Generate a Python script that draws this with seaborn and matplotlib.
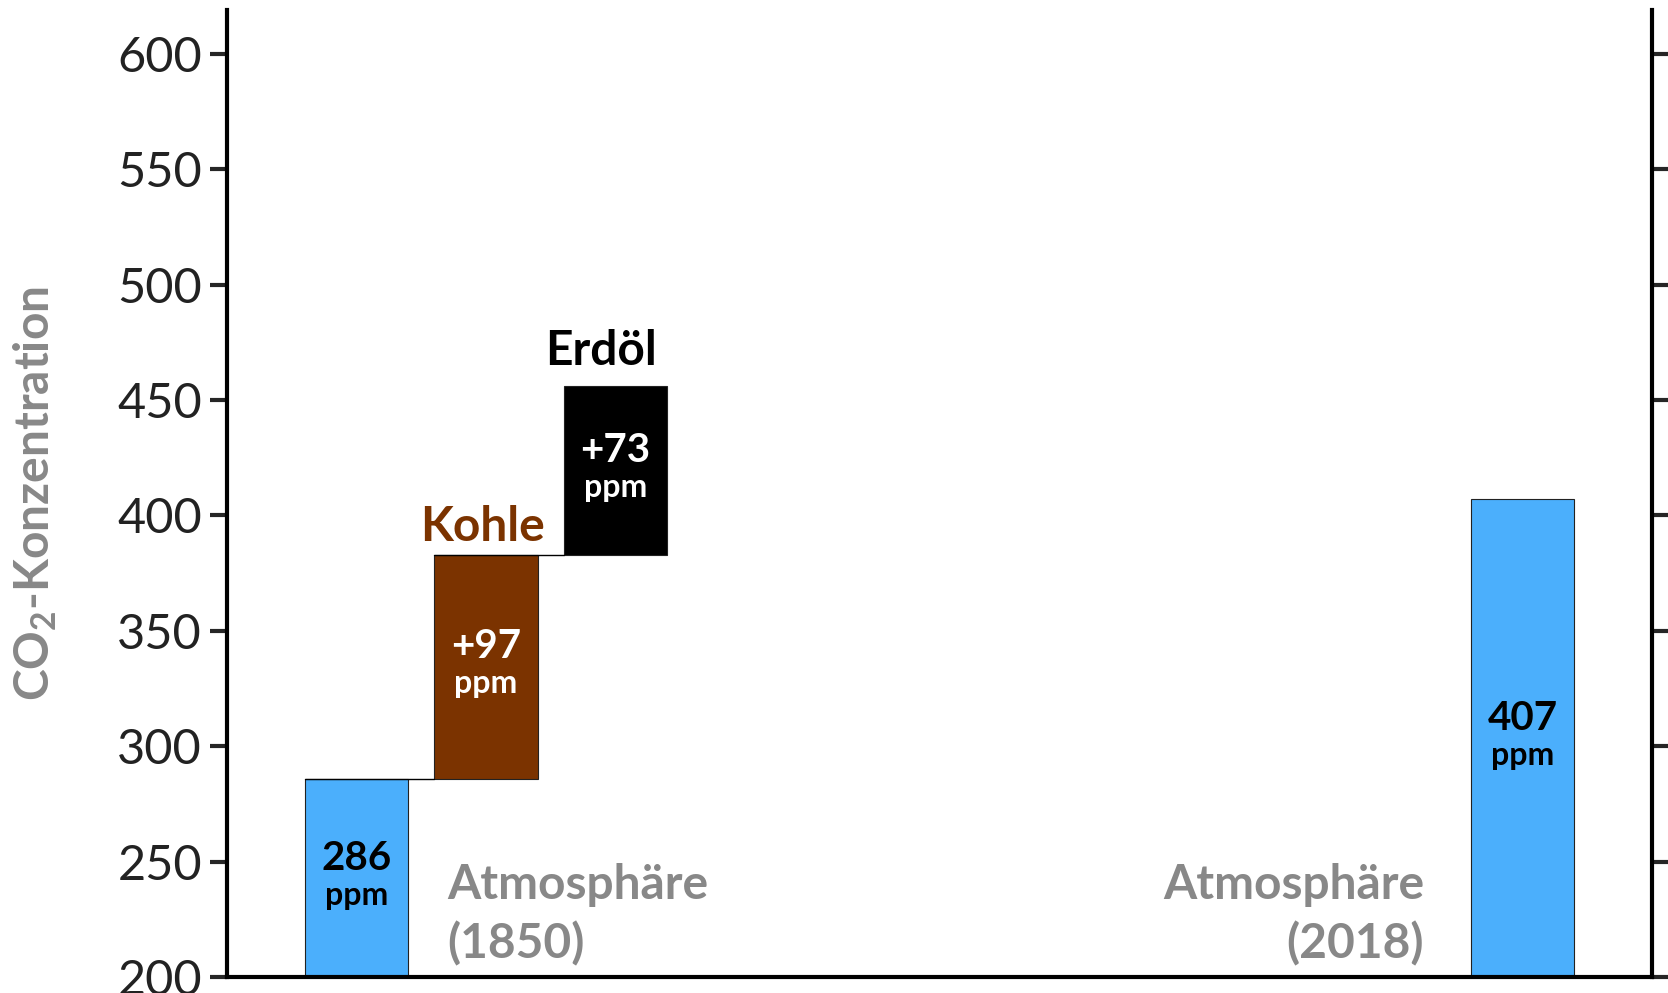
import numpy as np
import pandas as pd
import seaborn as sns
import matplotlib.pyplot as plt

# waterfall: CO2 concentration, 1850 -> 2018 (middle slots still empty)
slots = list(range(10))
bar_slots = [0, 1, 2, 9]
bar_bottoms = [0, 286, 383, 0]
bar_heights = [286, 97, 73, 407]
bar_values = ['286', '+97', '+73', '407']
bar_colors = ['#4BAFFC', '#7B3300', '#000000', '#4BAFFC']
value_colors = ['black', 'white', 'white', 'black']
y_ticks = [200, 250, 300, 350, 400, 450, 500, 550, 600]

sns.set_theme(style='ticks')
plt.rcParams['font.family'] = ['Lato', 'DejaVu Sans']
plt.rcParams['mathtext.default'] = 'regular'

fig = plt.figure(figsize=(16.68, 9.93), dpi=100)
ax = fig.add_axes([0.1361, 0.0161, 0.8543, 0.9738])

ymin, ymax = 200, 619

for s, b, h, c in zip(bar_slots, bar_bottoms, bar_heights, bar_colors):
    sns.barplot(x=[s], y=[h], bottom=b, order=slots, color=c, saturation=1,
                width=0.8, edgecolor='#222222', linewidth=0.8, ax=ax)

# connector lines between the floating bars
for i in range(2):
    level = bar_bottoms[i] + bar_heights[i]
    ax.plot([bar_slots[i] - 0.4, bar_slots[i + 1] - 0.4], [level, level],
            color='black', lw=1, zorder=1)

# values inside bars
for s, b, h, v, tc in zip(bar_slots, bar_bottoms, bar_heights, bar_values, value_colors):
    mid = (max(b, ymin) + b + h) / 2
    ax.text(s, mid + 8.5, v, ha='center', va='center', fontsize=29,
            fontweight='bold', color=tc)
    ax.text(s, mid - 7.5, 'ppm', ha='center', va='center', fontsize=23,
            fontweight='bold', color=tc)

# category labels
ax.text(0.97, 389, 'Kohle', ha='center', va='baseline', fontsize=34.5,
        fontweight='bold', color='#7B3300')
ax.text(1.89, 465, 'Erdöl', ha='center', va='baseline', fontsize=34.5,
        fontweight='bold', color='black')
ax.text(0.70, 249.5, 'Atmosphäre\n(1850)', ha='left', va='top', fontsize=34.5,
        fontweight='bold', color='#888888', linespacing=1.38)
ax.text(8.24, 249.5, 'Atmosphäre\n(2018)', ha='right', va='top', fontsize=34.5,
        fontweight='bold', color='#888888', linespacing=1.38, multialignment='right')

ax.set_xlim(-1, 10)
ax.set_ylim(ymin, ymax)
ax.set_xticks([])
ax.set_xlabel('')
ax.set_yticks(y_ticks)
ax.tick_params(axis='y', which='both', left=True, right=True, labelright=False,
               direction='out', length=12, width=3, labelsize=35,
               labelcolor='#222222', pad=6)
for side in ['left', 'bottom', 'right']:
    ax.spines[side].set_linewidth(3)
    ax.spines[side].set_color('black')
ax.spines['top'].set_visible(False)

ax.set_ylabel('CO$_2$-Konzentration', fontsize=34.5, fontweight='bold', color='#888888')
ax.yaxis.set_label_coords(-0.118, 0.5)

fig.savefig('out.png', dpi=100)
